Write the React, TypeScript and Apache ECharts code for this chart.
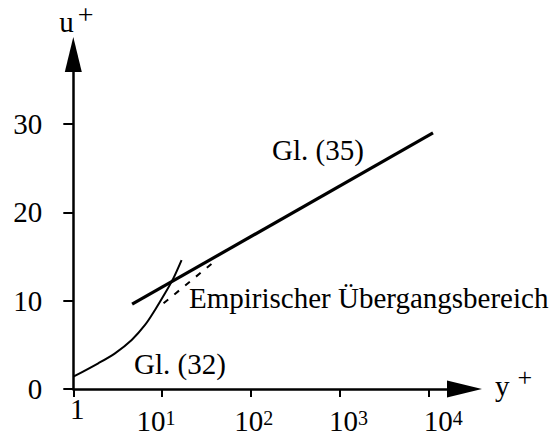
import React, { useEffect, useRef } from "react";
import * as echarts from "echarts";

// ---- data ----
const xTickValues = [1, 10, 100, 1000, 10000];
const yTickValues = [0, 10, 20, 30];
const gl35X = [4.6, 11300];
const gl35Y = [9.6, 29.0];
const gl32X = [1, 1.91, 2.95, 4.55, 6.43, 8.33, 10.8, 13.4, 16.6];
const gl32Y = [1.39, 2.91, 4.04, 5.55, 7.25, 8.95, 10.83, 12.53, 14.6];
const transitionX = [10.4, 38];
const transitionY = [9.7, 14.35];
const annotationTexts = ["Gl. (35)", "Empirischer Übergangsbereich", "Gl. (32)"];
const xName = "y";
const yName = "u";

// ---- style ----
const FONT = "Liberation Serif";
const labelShift = [8, -12, 6, 18, 30]; // horizontal shift (padding) of x labels, by index
const annotationPos = [
  [272, 150],
  [189, 298],
  [134, 364],
];

const pairs = (xs: number[], ys: number[]) => xs.map((x, i) => [x, ys[i]]);

export default function App() {
  const ref = useRef<HTMLDivElement>(null);
  useEffect(() => {
    if (!ref.current) return;
    const chart = echarts.init(ref.current, undefined, { renderer: "svg" });
    const gridLeft = 73.3;
    const gridRight = 108;
    const gridTop = 72;
    const gridBottom = 46;
    const decades = (555 - gridLeft - gridRight) / 88.75;
    const xMax = Math.pow(10, decades);
    const yMax = (435 - gridBottom - gridTop) / 8.833;

    const richX: any = {
      one: { fontSize: 29, fontFamily: FONT, color: "#000", lineHeight: 3, padding: [0, 0, 0, labelShift[0]] },
      s: { fontSize: 20, fontFamily: FONT, color: "#000", lineHeight: 13, verticalAlign: "top" },
      sR: { fontSize: 20, fontFamily: FONT, color: "#000", lineHeight: 13, verticalAlign: "top", padding: [0, -labelShift[1], 0, 0] },
    };
    for (let i = 1; i < 5; i++) {
      richX["b" + i] = {
        fontSize: 29,
        fontFamily: FONT,
        color: "#000",
        lineHeight: 26,
        padding: [0, 0, 0, Math.max(0, labelShift[i])],
      };
    }

    chart.setOption({
      animation: false,
      backgroundColor: "#fff",
      textStyle: { fontFamily: FONT },
      grid: { left: gridLeft, right: gridRight, top: gridTop, bottom: gridBottom, containLabel: false, outerBoundsMode: "none" } as any,
      xAxis: {
        type: "log",
        logBase: 10,
        min: 1,
        max: xMax,
        name: `{v|${xName}}{p|+}`,
        nameLocation: "end",
        nameGap: 48,
        nameTextStyle: {
          padding: [0, 0, 7, 0],
          rich: {
            v: { fontSize: 29, fontFamily: FONT, color: "#000", lineHeight: 41.6 },
            p: { fontSize: 26, fontFamily: FONT, color: "#000", lineHeight: 12, verticalAlign: "top", padding: [0, 0, 0, 8] },
          },
        },
        axisLine: {
          onZero: false,
          symbol: ["none", "triangle"],
          symbolSize: [17, 35],
          symbolOffset: [0, 17.5],
          lineStyle: { color: "#000", width: 2.5 },
        },
        axisTick: { show: true, length: 8, lineStyle: { color: "#000", width: 2 }, customValues: xTickValues } as any,
        axisLabel: {
          margin: 18.5,
          customValues: xTickValues,
          formatter: (value: number) => {
            const e = Math.round(Math.log10(value));
            if (e === 0) return "{one|1}";
            return `{b${e}|10}{${labelShift[e] < 0 ? "sR" : "s"}|${e}}`;
          },
          rich: richX,
        } as any,
        splitLine: { show: false },
        minorTick: { show: false },
      },
      yAxis: {
        type: "value",
        min: 0,
        max: yMax,
        name: `{v|${yName}}{p|+}`,
        nameLocation: "end",
        nameGap: 28,
        nameTextStyle: {
          rich: {
            v: { fontSize: 29, fontFamily: FONT, color: "#000", lineHeight: 43.9, padding: [0, 0, 0, 6] },
            p: { fontSize: 28, fontFamily: FONT, color: "#000", lineHeight: 12, verticalAlign: "top", padding: [0, 0, 0, 4] },
          },
        },
        axisLine: {
          show: true,
          onZero: false,
          symbol: ["none", "triangle"],
          symbolSize: [17, 35],
          symbolOffset: [0, 17.5],
          lineStyle: { color: "#000", width: 2.5 },
        },
        axisTick: { show: true, length: 10, lineStyle: { color: "#000", width: 2 }, customValues: yTickValues } as any,
        axisLabel: {
          margin: 31,
          customValues: yTickValues,
          fontSize: 29,
          fontFamily: FONT,
          color: "#000",
        } as any,
        splitLine: { show: false },
      },
      series: [
        {
          type: "line",
          name: annotationTexts[0],
          data: pairs(gl35X, gl35Y),
          showSymbol: false,
          lineStyle: { color: "#000", width: 3.2 },
          z: 3,
        },
        {
          type: "line",
          name: annotationTexts[2],
          data: pairs(gl32X, gl32Y),
          smooth: 0.3,
          showSymbol: false,
          lineStyle: { color: "#000", width: 2 },
        },
        {
          type: "line",
          name: annotationTexts[1],
          data: pairs(transitionX, transitionY),
          showSymbol: false,
          lineStyle: { color: "#000", width: 2, type: [6, 8] },
        },
      ],
      graphic: annotationTexts.map((t, i) => ({
        type: "text",
        x: annotationPos[i][0],
        y: annotationPos[i][1],
        style: {
          text: t,
          fontSize: 29,
          fontFamily: FONT,
          fill: "#000",
          align: "left",
          verticalAlign: "middle",
        },
      })),
    });
    return () => chart.dispose();
  }, []);
  return (
    <div
      ref={ref}
      style={{ position: "fixed", left: 0, top: 0, width: 555, height: 435, background: "#fff" }}
    />
  );
}
